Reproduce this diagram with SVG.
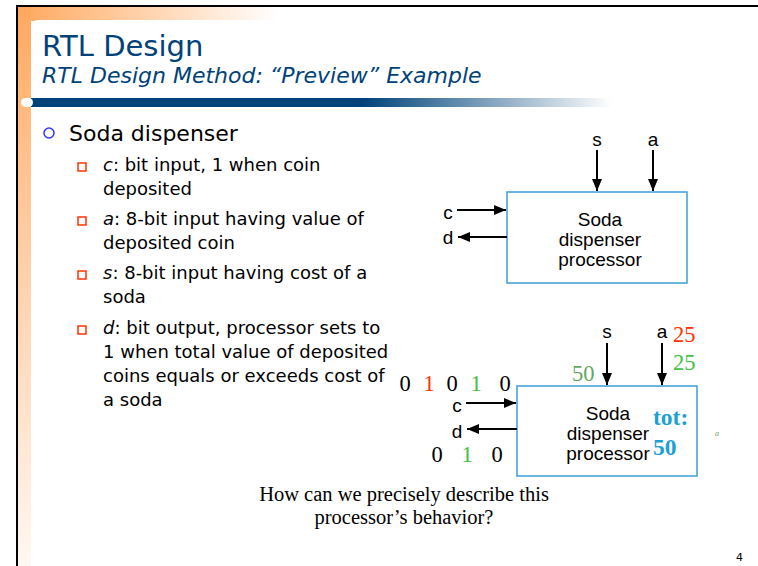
<svg xmlns="http://www.w3.org/2000/svg" width="758" height="566" viewBox="0 0 758 566">
<defs>
<linearGradient id="gTop" x1="0" y1="0" x2="1" y2="0">
<stop offset="0" stop-color="#FFA85E"/>
<stop offset="1" stop-color="#FFFFFF"/>
</linearGradient>
<linearGradient id="gLeft" x1="0" y1="0" x2="0" y2="1">
<stop offset="0" stop-color="#FFA85E"/>
<stop offset="0.25" stop-color="#FFC08C"/>
<stop offset="1" stop-color="#FFF8F2"/>
</linearGradient>
<linearGradient id="gBar" x1="0" y1="0" x2="1" y2="0">
<stop offset="0" stop-color="#00427A"/>
<stop offset="1" stop-color="#FFFFFF"/>
</linearGradient>
<marker id="ah" viewBox="0 0 12 10" refX="12" refY="5" markerWidth="12" markerHeight="10" markerUnits="userSpaceOnUse" orient="auto">
<path d="M0,0 L12,5 L0,10 Z" fill="#000"/>
</marker>
<style>
.title{font-family:"DejaVu Sans",Verdana,sans-serif;fill:#00427A}
.b1{font-family:"DejaVu Sans",Verdana,sans-serif;font-size:22px;fill:#000}
.b2{font-family:"DejaVu Sans",Verdana,sans-serif;font-size:18px;fill:#000}
.sq{fill:none;stroke:#FF3300;stroke-width:1.5}
.box{fill:#fff;stroke:#3B9FD6;stroke-width:1.5}
.lbl{font-family:"Liberation Sans",Arial,sans-serif;font-size:19px;fill:#000}
.btxt{font-family:"Liberation Sans",Arial,sans-serif;font-size:19px;fill:#000;text-anchor:middle}
.wire{stroke:#000;stroke-width:2;fill:none;marker-end:url(#ah)}
.tm{font-family:"Liberation Serif","Times New Roman",serif;font-size:22.5px}
.tot{font-family:"Liberation Serif","Times New Roman",serif;font-size:23.5px;font-weight:bold;fill:#1E9FD6}
.q{font-family:"Liberation Serif","Times New Roman",serif;font-size:20.5px;fill:#000;text-anchor:middle}
</style>
</defs>
<rect width="758" height="566" fill="#fff"/>
<!-- header decoration -->
<rect x="18" y="7" width="260" height="14" fill="url(#gTop)"/>
<rect x="18" y="7" width="13" height="559" fill="url(#gLeft)"/>
<rect x="31" y="20" width="740" height="560" rx="7" fill="#fff"/>
<rect x="31" y="98" width="332" height="9" fill="#00427A"/>
<rect x="362" y="98" width="250" height="9" fill="url(#gBar)"/>
<rect x="21" y="98" width="12" height="9" rx="4.5" fill="#fff"/>
<line x1="17" y1="6" x2="758" y2="6" stroke="#000" stroke-width="2"/>
<line x1="17" y1="5" x2="17" y2="566" stroke="#000" stroke-width="2"/>
<!-- titles -->
<text class="title" x="42" y="56" font-size="29">RTL Design</text>
<text class="title" x="42" y="83" font-size="22" font-style="italic">RTL Design Method: “Preview” Example</text>
<!-- bullets -->
<circle cx="49" cy="133" r="5" fill="none" stroke="#3333FF" stroke-width="1.5"/>
<text class="b1" x="69" y="141">Soda dispenser</text>
<rect class="sq" x="78" y="163" width="8" height="8"/>
<text class="b2" x="103" y="171"><tspan font-style="italic">c</tspan>: bit input, 1 when coin</text>
<text class="b2" x="103" y="195">deposited</text>
<rect class="sq" x="78" y="217" width="8" height="8"/>
<text class="b2" x="103" y="225"><tspan font-style="italic">a</tspan>: 8-bit input having value of</text>
<text class="b2" x="103" y="249">deposited coin</text>
<rect class="sq" x="78" y="271" width="8" height="8"/>
<text class="b2" x="103" y="279"><tspan font-style="italic">s</tspan>: 8-bit input having cost of a</text>
<text class="b2" x="103" y="303">soda</text>
<rect class="sq" x="78" y="326" width="8" height="8"/>
<text class="b2" x="103" y="334"><tspan font-style="italic">d</tspan>: bit output, processor sets to</text>
<text class="b2" x="103" y="358">1 when total value of deposited</text>
<text class="b2" x="103" y="382">coins equals or exceeds cost of</text>
<text class="b2" x="103" y="406">a soda</text>
<!-- diagram 1 -->
<g id="proc1">
<rect class="box" x="507" y="192" width="180" height="91"/>
<text class="btxt" x="600" y="226">Soda</text>
<text class="btxt" x="600" y="246">dispenser</text>
<text class="btxt" x="600" y="266">processor</text>
</g>
<g id="labels1">
<text class="lbl" x="597" y="146" text-anchor="middle">s</text>
<text class="lbl" x="653" y="146" text-anchor="middle">a</text>
<text class="lbl" x="448" y="219" text-anchor="middle">c</text>
<text class="lbl" x="448" y="244" text-anchor="middle">d</text>
</g>
<!-- diagram 2 -->
<g id="proc2">
<rect class="box" x="517" y="386" width="180" height="90"/>
<text class="btxt" x="608" y="420">Soda</text>
<text class="btxt" x="608" y="440">dispenser</text>
<text class="btxt" x="608" y="460">processor</text>
<text class="tot" x="653" y="425">tot:</text>
<text class="tot" x="653" y="455">50</text>
</g>
<g id="labels2">
<text class="lbl" x="607" y="338" text-anchor="middle">s</text>
<text class="lbl" x="662" y="338" text-anchor="middle">a</text>
<text class="lbl" x="457" y="412" text-anchor="middle">c</text>
<text class="lbl" x="457" y="438" text-anchor="middle">d</text>
<text class="tm" x="673" y="342" fill="#FF3300">25</text>
<text class="tm" x="673" y="370" fill="#44C044">25</text>
<text class="tm" x="572" y="381" fill="#5FA85F">50</text>
<text class="tm" x="405" y="391" text-anchor="middle" fill="#000">0</text>
<text class="tm" x="429" y="391" text-anchor="middle" fill="#FF3300">1</text>
<text class="tm" x="452" y="391" text-anchor="middle" fill="#000">0</text>
<text class="tm" x="476" y="391" text-anchor="middle" fill="#44C044">1</text>
<text class="tm" x="505" y="391" text-anchor="middle" fill="#000">0</text>
<text class="tm" x="437" y="462" text-anchor="middle" fill="#000">0</text>
<text class="tm" x="467" y="462" text-anchor="middle" fill="#44C044">1</text>
<text class="tm" x="497" y="462" text-anchor="middle" fill="#000">0</text>
<text x="715" y="436" font-family="Liberation Serif,serif" font-size="8" font-style="italic" fill="#5FA85F">a</text>
</g>
<g id="connectors">
<line class="wire" x1="597" y1="150" x2="597" y2="191"/>
<line class="wire" x1="653" y1="150" x2="653" y2="191"/>
<line class="wire" x1="457" y1="210" x2="506" y2="210"/>
<line class="wire" x1="507" y1="237" x2="458" y2="237"/>
<line class="wire" x1="607" y1="343" x2="607" y2="385"/>
<line class="wire" x1="662" y1="343" x2="662" y2="385"/>
<line class="wire" x1="466" y1="403" x2="516" y2="403"/>
<line class="wire" x1="517" y1="429" x2="467" y2="429"/>
</g>
<text class="q" x="404" y="501">How can we precisely describe this</text>
<text class="q" x="404" y="524">processor’s behavior?</text>
<text x="736" y="561" font-family="DejaVu Sans,Verdana,sans-serif" font-size="11" fill="#000">4</text>
</svg>
